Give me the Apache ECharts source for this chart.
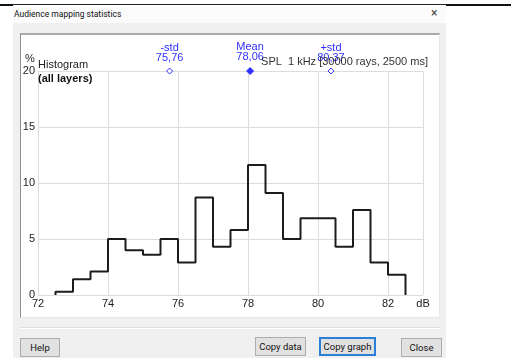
<!DOCTYPE html>
<html>
<head>
<meta charset="utf-8">
<script src="https://cdn.jsdelivr.net/npm/echarts@6/dist/echarts.min.js"></script>
<style>
  html, body { margin: 0; padding: 0; background: #ffffff; }
  #stage { position: relative; width: 511px; height: 358px; overflow: hidden; font-family: Roboto, "Noto Sans", sans-serif; }
  .abs { position: absolute; box-sizing: border-box; }
  .btn { position: absolute; box-sizing: border-box; background: #e1e1e1; border: 1px solid #adadad;
         font-size: 9.5px; color: #111; text-align: center; line-height: 17px; }
  #chart { position: absolute; left: 0; top: 0; width: 511px; height: 358px; }
</style>
</head>
<body>
<div id="stage">
  <!-- window edge behind the dialog -->
  <div class="abs" style="left:0;top:4px;width:511px;height:1px;background:#222;"></div>
  <div class="abs" style="left:0;top:4px;width:13px;height:2px;background:#111;"></div>
  <div class="abs" style="left:446px;top:4px;width:65px;height:2px;background:#111;"></div>
  <!-- dialog body -->
  <div class="abs" style="left:13px;top:7px;width:433px;height:351px;background:#f0f0f0;"></div>
  <div class="abs" style="left:13px;top:7px;width:433px;height:16px;background:#fbfbfb;"></div>
  <div class="abs" style="left:14px;top:9px;font-size:8.5px;color:#111;">Audience mapping statistics</div>
  <div class="abs" style="left:431px;top:6px;font-size:12px;color:#444;">×</div>
  <!-- chart panel -->
  <div class="abs" style="left:20px;top:33px;width:420px;height:285px;background:#fff;border-top:2px solid #a9a9a9;border-left:1px solid #8e8e8e;border-right:1px solid #e8e8e8;border-bottom:1px solid #e8e8e8;"></div>
  <!-- separator -->
  <div class="abs" style="left:20px;top:327px;width:420px;height:2px;border-top:1px solid #dedede;border-bottom:1px solid #ffffff;"></div>
  <!-- buttons -->
  <div class="btn" style="left:20px;top:338px;width:40px;height:19px;">Help</div>
  <div class="btn" style="left:255px;top:337px;width:51px;height:19px;">Copy data</div>
  <div class="btn" style="left:319px;top:337px;width:57px;height:19px;border:2px solid #2b7fd9;line-height:15px;">Copy graph</div>
  <div class="btn" style="left:401px;top:338px;width:41px;height:19px;">Close</div>
  <div id="chart"></div>
</div>
<script>
// Histogram bins (dB edges) and share of receivers per bin (%)
const binEdges = [72.5, 73.0, 73.5, 74.0, 74.5, 75.0, 75.5, 76.0, 76.5, 77.0, 77.5,
                  78.0, 78.5, 79.0, 79.5, 80.0, 80.5, 81.0, 81.5, 82.0, 82.5];
const binValues = [0.3, 1.4, 2.1, 5.0, 4.0, 3.6, 5.0, 2.9, 8.7, 4.3,
                   5.8, 11.6, 9.1, 5.0, 6.85, 6.85, 4.3, 7.6, 2.9, 1.8];

// Statistic markers
const statNames = ['-std', 'Mean', '+std'];
const statValues = [75.76, 78.06, 80.37];
const statFilled = [false, true, false];

// Axis ticks
const xTicks = [72, 74, 76, 78, 80, 82];
const xUnit = 'dB';
const yTicks = [0, 5, 10, 15, 20];

const caption = 'SPL  1 kHz [30000 rays, 2500 ms]';

// Step outline of the histogram
const outline = [[binEdges[0], 0]];
for (let i = 0; i < binValues.length; i++) {
  outline.push([binEdges[i], binValues[i]]);
  outline.push([binEdges[i + 1], binValues[i]]);
}
outline.push([binEdges[binEdges.length - 1], 0]);

const blue = '#3030ff';
const statData = statValues.map((v, i) => ({
  value: [v, yTicks[yTicks.length - 1]],
  name: statNames[i],
  symbolSize: statFilled[i] ? 7 : 6,
  itemStyle: { color: statFilled[i] ? blue : '#ffffff', borderColor: blue, borderWidth: 1, opacity: 1 }
}));

const fmtComma = v => v.toFixed(2).replace('.', ',');
const font = '"Liberation Sans", Arial, sans-serif';

const chart = echarts.init(document.getElementById('chart'), null, { renderer: 'canvas' });
chart.setOption({
  animation: false,
  backgroundColor: 'transparent',
  grid: { left: 38, right: 88, top: 71, bottom: 63, containLabel: false, outerBoundsMode: 'none' },
  xAxis: {
    type: 'value',
    min: xTicks[0],
    max: 83,
    interval: 2,
    axisLine: { show: false },
    axisTick: { show: false },
    splitLine: { show: true, lineStyle: { color: '#dddddd', width: 1 } },
    axisLabel: {
      showMinLabel: true, showMaxLabel: true,
      color: '#222', fontSize: 11, fontFamily: font, margin: 3,
      formatter: v => (xTicks.indexOf(v) >= 0 ? String(v) : xUnit)
    }
  },
  yAxis: {
    type: 'value',
    min: yTicks[0],
    max: yTicks[yTicks.length - 1],
    interval: 5,
    axisLine: { show: false },
    axisTick: { show: false },
    splitLine: { show: true, lineStyle: { color: '#dddddd', width: 1 } },
    axisLabel: { color: '#222', fontSize: 11, fontFamily: font, margin: 3 }
  },
  series: [
    {
      type: 'line',
      data: outline,
      symbol: 'none',
      lineStyle: { color: '#1c1c1c', width: 2 },
      z: 3
    },
    {
      type: 'scatter',
      data: statData,
      symbol: 'diamond',
      z: 4,
      label: {
        show: true,
        position: 'top',
        distance: 5,
        color: blue,
        fontSize: 11,
        fontFamily: font,
        lineHeight: 10,
        formatter: p => p.name + '\n' + fmtComma(p.value[0])
      }
    }
  ],
  graphic: [
    { type: 'text', left: 25, top: 53, z: 10,
      style: { text: '%', fill: '#222', font: '11px ' + font } },
    { type: 'text', left: 38, top: 59, z: 10,
      style: { text: 'Histogram', fill: '#222', font: '11px ' + font } },
    { type: 'text', left: 38, top: 73, z: 10,
      style: { text: '(all layers)', fill: '#111', font: 'bold 11px ' + font } },
    { type: 'text', right: 83, top: 56, z: 10,
      style: { text: caption, fill: '#333', font: '11px ' + font } }
  ]
});
</script>
</body>
</html>
